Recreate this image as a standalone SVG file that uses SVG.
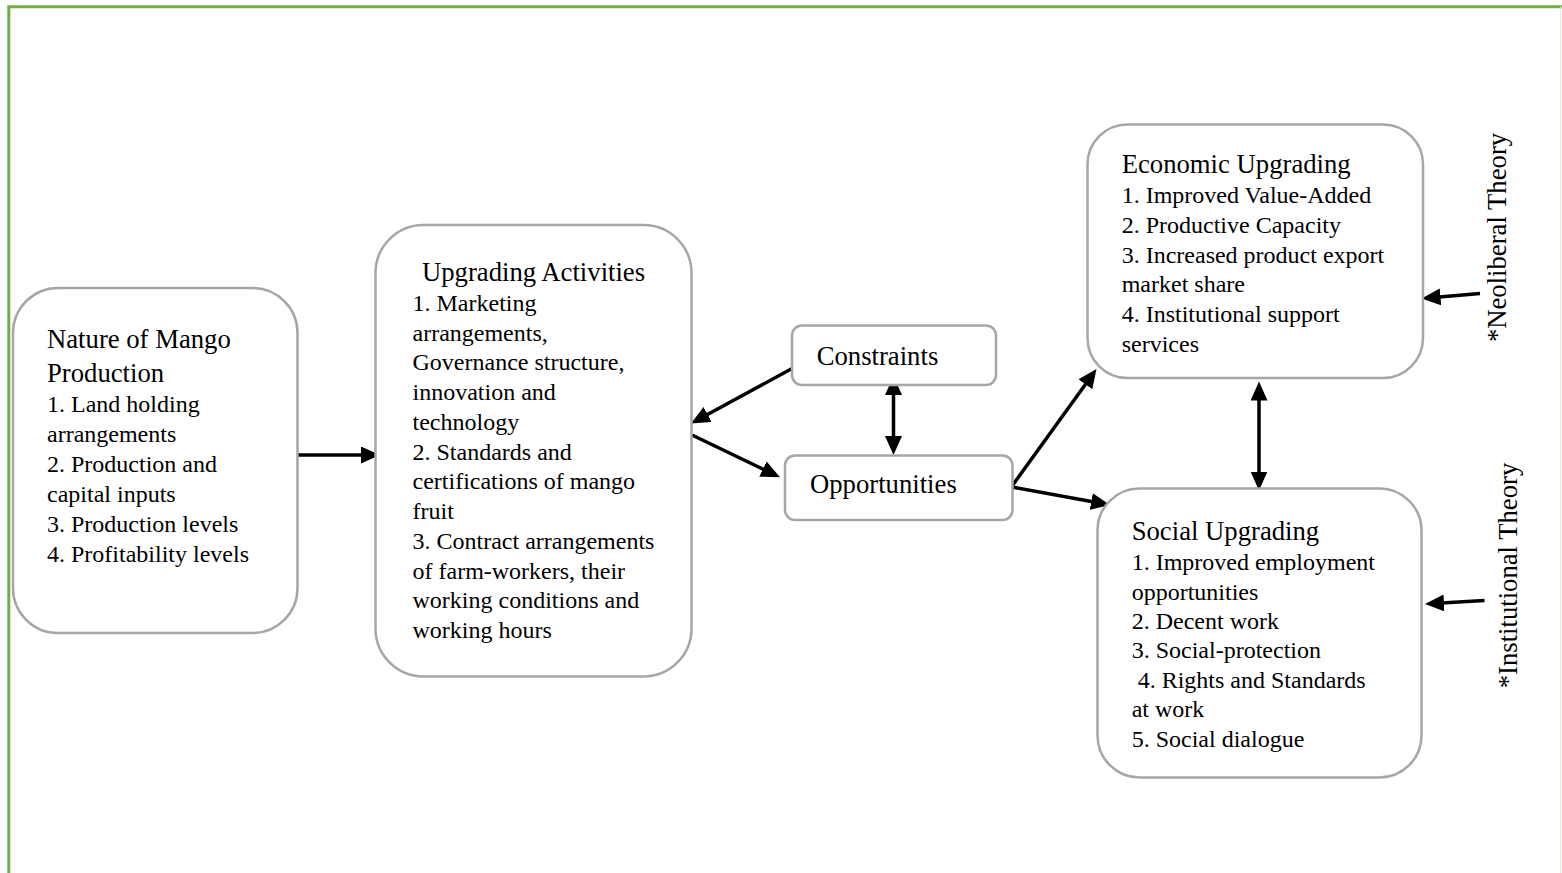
<svg xmlns="http://www.w3.org/2000/svg" width="1562" height="873" viewBox="0 0 1562 873">
  <defs>
    <style>
      .box { fill: #ffffff; stroke: #a6a6a6; stroke-width: 2.5; }
      .t { font-family: "Liberation Serif", "Times New Roman", serif; fill: #000000; }
      .title { font-size: 26.7px; }
      .item { font-size: 24px; }
      .conn { stroke: #000000; stroke-width: 3.5; fill: none; }
      .frame { stroke: #70ad47; stroke-width: 3; fill: none; }
    </style>
    <!-- arrowhead: tip sits 12px beyond the line end -->
    <marker id="head" markerUnits="userSpaceOnUse" markerWidth="20" markerHeight="18" refX="7" refY="8.5" orient="auto-start-reverse">
      <path d="M0,0 L19,8.5 L0,17 z" fill="#000000"/>
    </marker>
  </defs>

  <rect width="1562" height="873" fill="#ffffff"/>

  <!-- page frame -->
  <g id="frame">
    <path class="frame" d="M8.8,873 L8.8,6.7 L1562,6.7"/>
    <line x1="1560.5" y1="6.7" x2="1560.5" y2="873" stroke="#e2ecdb" stroke-width="1.2"/>
  </g>

  <!-- connectors -->
  <g id="connectors">
    <line class="conn" x1="298" y1="455" x2="368" y2="455" marker-end="url(#head)"/>
    <line class="conn" x1="793" y1="368" x2="701.5" y2="417.8" marker-end="url(#head)"/>
    <line class="conn" x1="692" y1="435" x2="769.2" y2="472.1" marker-end="url(#head)"/>
    <line class="conn" x1="893.5" y1="388" x2="893.5" y2="443" marker-start="url(#head)" marker-end="url(#head)"/>
    <line class="conn" x1="1012" y1="486" x2="1089.5" y2="378.7" marker-end="url(#head)"/>
    <line class="conn" x1="1012" y1="487" x2="1098.2" y2="502.8" marker-end="url(#head)"/>
    <line class="conn" x1="1259" y1="393.5" x2="1259" y2="478.5" marker-start="url(#head)" marker-end="url(#head)"/>
    <line class="conn" x1="1480" y1="293.5" x2="1433.5" y2="297.5" marker-end="url(#head)"/>
    <line class="conn" x1="1484.5" y1="600.5" x2="1437" y2="603.3" marker-end="url(#head)"/>
  </g>

  <!-- Nature of Mango Production -->
  <g id="node-nature">
    <rect class="box" x="13" y="288" width="284.5" height="345" rx="45" ry="45"/>
    <text class="t title" x="47" y="348.3">Nature of Mango</text>
    <text class="t title" x="47" y="381.7">Production</text>
    <text class="t item" x="47" y="411.7">1. Land holding</text>
    <text class="t item" x="47" y="441.7">arrangements</text>
    <text class="t item" x="47" y="471.7">2. Production and</text>
    <text class="t item" x="47" y="501.7">capital inputs</text>
    <text class="t item" x="47" y="531.7">3. Production levels</text>
    <text class="t item" x="47" y="561.7">4. Profitability levels</text>
  </g>

  <!-- Upgrading Activities -->
  <g id="node-activities">
    <rect class="box" x="375.5" y="225" width="316" height="451.5" rx="48" ry="48"/>
    <text class="t title" x="422" y="281">Upgrading Activities</text>
    <text class="t item" x="412.5" y="310.7">1. Marketing</text>
    <text class="t item" x="412.5" y="340.5">arrangements,</text>
    <text class="t item" x="412.5" y="370.2">Governance structure,</text>
    <text class="t item" x="412.5" y="400">innovation and</text>
    <text class="t item" x="412.5" y="429.7">technology</text>
    <text class="t item" x="412.5" y="459.5">2. Standards and</text>
    <text class="t item" x="412.5" y="489.2">certifications of mango</text>
    <text class="t item" x="412.5" y="519">fruit</text>
    <text class="t item" x="412.5" y="548.7">3. Contract arrangements</text>
    <text class="t item" x="412.5" y="578.5">of farm-workers, their</text>
    <text class="t item" x="412.5" y="608.2">working conditions and</text>
    <text class="t item" x="412.5" y="638">working hours</text>
  </g>

  <!-- Constraints -->
  <g id="node-constraints">
    <rect class="box" x="792" y="325.5" width="204" height="59.5" rx="10" ry="10"/>
    <text class="t title" x="816.7" y="365">Constraints</text>
  </g>

  <!-- Opportunities -->
  <g id="node-opportunities">
    <rect class="box" x="785" y="455.5" width="227.5" height="64.5" rx="10" ry="10"/>
    <text class="t title" x="810" y="493.3">Opportunities</text>
  </g>

  <!-- Economic Upgrading -->
  <g id="node-economic">
    <rect class="box" x="1087.5" y="124.5" width="335.5" height="253.5" rx="40" ry="40"/>
    <text class="t title" x="1121.7" y="173.3">Economic Upgrading</text>
    <text class="t item" x="1121.7" y="203.3">1. Improved Value-Added</text>
    <text class="t item" x="1121.7" y="233">2. Productive Capacity</text>
    <text class="t item" x="1121.7" y="262.7">3. Increased product export</text>
    <text class="t item" x="1121.7" y="292.4">market share</text>
    <text class="t item" x="1121.7" y="322">4. Institutional support</text>
    <text class="t item" x="1121.7" y="351.7">services</text>
  </g>

  <!-- Social Upgrading -->
  <g id="node-social">
    <rect class="box" x="1097.5" y="488.5" width="324" height="289" rx="42" ry="42"/>
    <text class="t title" x="1131.7" y="540">Social Upgrading</text>
    <text class="t item" x="1131.7" y="570">1. Improved employment</text>
    <text class="t item" x="1131.7" y="599.5">opportunities</text>
    <text class="t item" x="1131.7" y="628.9">2. Decent work</text>
    <text class="t item" x="1131.7" y="658.4">3. Social-protection</text>
    <text class="t item" x="1131.7" y="687.8" xml:space="preserve"> 4. Rights and Standards</text>
    <text class="t item" x="1131.7" y="717.3">at work</text>
    <text class="t item" x="1131.7" y="746.7">5. Social dialogue</text>
  </g>

  <!-- theory labels -->
  <g id="label-neoliberal">
    <text class="t title" text-anchor="middle" transform="translate(1505.5,237.5) rotate(-90)">*Neoliberal Theory</text>
  </g>
  <g id="label-institutional">
    <text class="t title" text-anchor="middle" transform="translate(1516.5,575.5) rotate(-90)">*Institutional Theory</text>
  </g>
</svg>
